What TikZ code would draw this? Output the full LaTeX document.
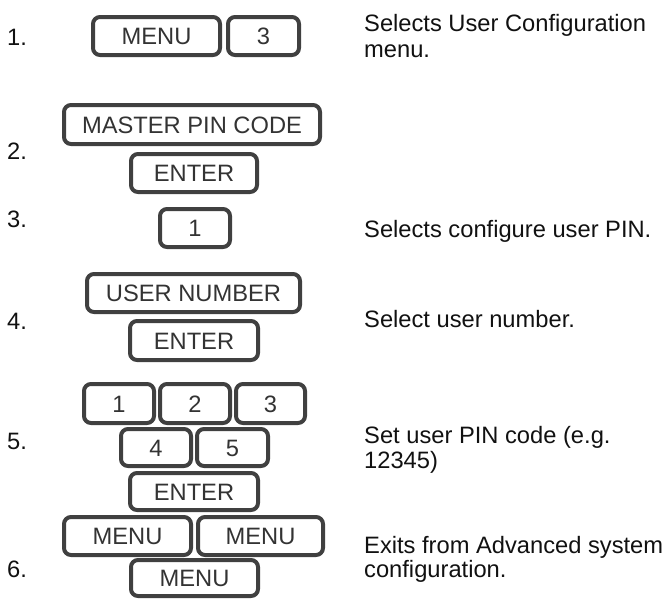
\documentclass[tikz,border=0pt]{standalone}
\usepackage{fontspec}
\setmainfont{Liberation Sans}
\definecolor{keyline}{HTML}{404040}
\definecolor{keytext}{HTML}{333333}
\definecolor{desc}{HTML}{111111}
\begin{document}
\begin{tikzpicture}[x=1pt,y=-1pt,
  key/.style={draw=keyline, line width=4pt, rounded corners=7pt, inner sep=0pt,
    text=keytext, font=\fontsize{23.7}{26}\selectfont,
    text height=17pt, text depth=0pt, minimum height=38pt},
  lbl/.style={anchor=base west, inner sep=0pt, text=desc, font=\fontsize{23.7}{26}\selectfont}]
\useasboundingbox (0,0) rectangle (670,598);
% step numbers
\node[lbl] (n1) at (7,45) {1.};
\node[lbl] (n2) at (7,159) {2.};
\node[lbl] (n3) at (7,227) {3.};
\node[lbl] (n4) at (7,329) {4.};
\node[lbl] (n5) at (7,449) {5.};
\node[lbl] (n6) at (7,577) {6.};
% row 1
\node[key, minimum width=127pt] (k1a) at (156.5,36) {MENU};
\node[key, minimum width=71pt] (k1b) at (263.5,36) {3};
% row 2
\node[key, minimum width=256pt, minimum height=39pt] (k2a) at (192,124.5) {MASTER PIN CODE};
\node[key, minimum width=126pt] (k2b) at (194,173) {ENTER};
% row 3
\node[key, minimum width=70pt] (k3a) at (195,228) {1};
% row 4
\node[key, minimum width=213pt] (k4a) at (193.5,293) {USER NUMBER};
\node[key, minimum width=128pt, minimum height=39pt] (k4b) at (194,340.5) {ENTER};
% row 5
\node[key, minimum width=70pt, minimum height=39pt] (k5a) at (119,403.5) {1};
\node[key, minimum width=70pt, minimum height=39pt] (k5b) at (195,403.5) {2};
\node[key, minimum width=69pt, minimum height=39pt] (k5c) at (270.5,403.5) {3};
\node[key, minimum width=70pt, minimum height=37pt] (k5d) at (156,447.5) {4};
\node[key, minimum width=71pt, minimum height=37pt] (k5e) at (232.5,447.5) {5};
\node[key, minimum width=128pt, minimum height=37pt] (k5f) at (194,491.5) {ENTER};
% row 6
\node[key, minimum width=127pt] (k6a) at (127.5,536) {MENU};
\node[key, minimum width=125pt] (k6b) at (260.5,536) {MENU};
\node[key, minimum width=127pt, minimum height=36pt] (k6c) at (194.5,578) {MENU};
% descriptions
\node[lbl] (d1a) at (364,31.5) {Selects User Configuration};
\node[lbl] (d1b) at (364,57) {menu.};
\node[lbl] (d3) at (364,237) {Selects configure user PIN.};
\node[lbl] (d4) at (364,327) {Select user number.};
\node[lbl] (d5a) at (364,443) {Set user PIN code (e.g.};
\node[lbl] (d5b) at (364,468) {12345)};
\node[lbl] (d6a) at (364,553) {Exits from Advanced system};
\node[lbl] (d6b) at (364,577) {configuration.};
\end{tikzpicture}
\end{document}
